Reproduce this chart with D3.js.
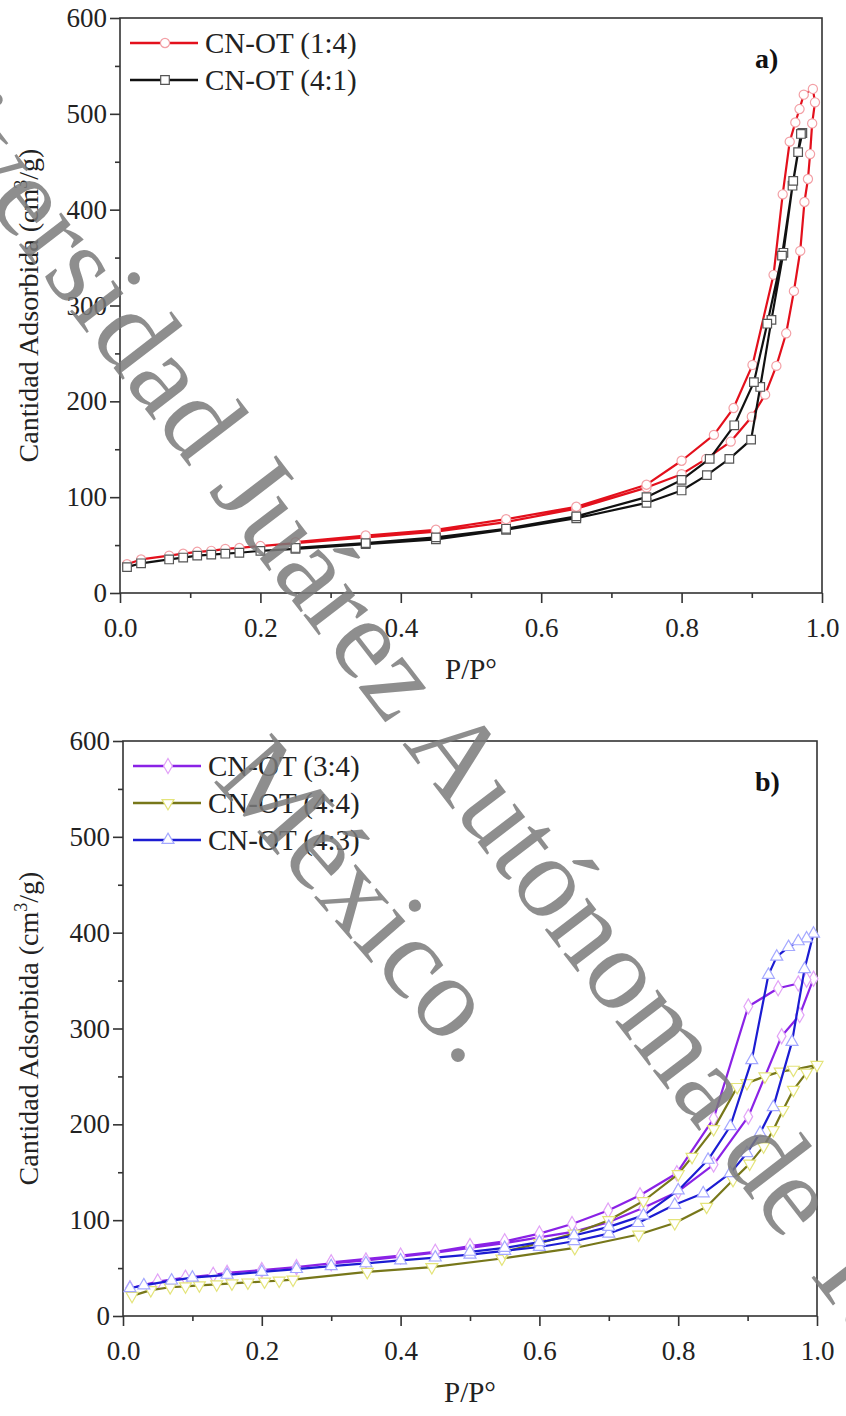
<!DOCTYPE html>
<html>
<head>
<meta charset="utf-8">
<script src="https://cdn.jsdelivr.net/npm/d3@7"></script>
<style>
  body { margin: 0; background: #fff; }
  svg { display: block; }
  .serif { font-family: "Liberation Serif", "Times New Roman", Tinos, "DejaVu Serif", serif; }
</style>
</head>
<body>
<script>
// isotherm points, measured order: adsorption up then desorption back down  [P/P0, cm3/g]
var cnot14 = [[0.01,30],[0.03,35],[0.07,39],[0.09,41],[0.11,43],[0.13,44],[0.15,46],[0.17,47],[0.2,49],[0.25,52],
  [0.35,58],[0.45,64],[0.55,74],[0.65,88],[0.75,110],[0.8,124],[0.835,140],[0.87,158],[0.9,184],[0.919,207],
  [0.935,237],[0.949,271],[0.96,315],[0.969,357],[0.975,408],[0.98,432],[0.983,458],[0.986,490],[0.99,512],
  [0.987,526],[0.974,520],[0.968,505],[0.962,491],[0.954,471],[0.944,416],[0.931,332],[0.901,238],[0.874,193],
  [0.846,165],[0.8,138],[0.75,113],[0.65,90],[0.55,77],[0.45,66],[0.35,60],[0.25,53]];
var cnot41 = [[0.01,27],[0.03,31],[0.07,35],[0.09,37],[0.11,39],[0.13,40],[0.15,41],[0.17,42],[0.2,44],[0.25,46],
  [0.35,51],[0.45,56],[0.55,66],[0.65,78],[0.75,94],[0.8,107],[0.836,123],[0.868,140],[0.899,160],[0.912,215],
  [0.928,285],[0.945,355],[0.958,425],[0.966,460],[0.972,480],
  [0.97,479],[0.959,430],[0.943,352],[0.922,281],[0.903,220],[0.875,175],[0.84,140],[0.8,118],[0.75,100],
  [0.65,80],[0.55,67],[0.45,58],[0.35,52],[0.25,47]];

var cnot34 = [[0.01,29],[0.05,36],[0.09,40],[0.13,43],[0.15,45],[0.2,48],[0.25,51],[0.3,55],[0.35,58],[0.4,62],
  [0.45,66],[0.5,71],[0.55,76],[0.6,82],[0.65,88],[0.7,98],[0.75,113],[0.8,130],[0.851,158],[0.901,208],
  [0.949,292],[0.975,314],[0.995,352],
  [0.985,351],[0.973,347],[0.944,342],[0.901,323],[0.851,206],[0.798,149],[0.745,126],[0.699,110],[0.647,96],
  [0.6,86],[0.55,78],[0.5,73],[0.45,67],[0.4,63],[0.3,56]];
var cnot44 = [[0.013,21],[0.04,27],[0.068,30],[0.09,31],[0.11,32],[0.135,33],[0.157,34],[0.18,35],[0.204,36],
  [0.225,37],[0.245,38],[0.352,46],[0.445,51],[0.546,60],[0.651,71],[0.743,85],[0.795,97],[0.841,114],
  [0.879,142],[0.903,159],[0.923,177],[0.937,194],[0.951,215],[0.966,236],[0.985,254],[1.0,262],
  [0.966,257],[0.947,255],[0.925,250],[0.899,243],[0.885,239],[0.851,195],[0.82,166],[0.8,148],[0.75,120],
  [0.7,100],[0.65,86],[0.6,76],[0.55,67]];
var cnot43 = [[0.01,29],[0.03,32],[0.07,37],[0.1,40],[0.15,43],[0.2,46],[0.25,49],[0.3,52],[0.35,55],[0.4,58],
  [0.45,61],[0.5,64],[0.55,68],[0.6,72],[0.65,78],[0.7,86],[0.742,97],[0.795,116],[0.836,128],[0.875,149],
  [0.899,170],[0.918,191],[0.937,218],[0.964,286],[0.982,362],[0.995,399],
  [0.985,394],[0.973,391],[0.959,385],[0.942,375],[0.93,356],[0.906,267],[0.875,198],[0.843,163],[0.8,131],
  [0.75,105],[0.7,93],[0.65,84],[0.6,77],[0.55,71],[0.5,67]];

var xTicks = [0, 0.2, 0.4, 0.6, 0.8, 1.0];
var yTicks = [0, 100, 200, 300, 400, 500, 600];

var panels = [
  {left: 120, right: 822, top: 18, bottom: 593, tag: "a)",
   series: [
     {name: "CN-OT (1:4)", data: cnot14, color: "#e3101c", mark: "#f3a0a6", sym: d3.symbolCircle, size: 66, rot: 0},
     {name: "CN-OT (4:1)", data: cnot41, color: "#111111", mark: "#555555", sym: d3.symbolSquare, size: 74, rot: 0}
   ]},
  {left: 123, right: 817, top: 741, bottom: 1316, tag: "b)",
   series: [
     {name: "CN-OT (3:4)", data: cnot34, color: "#8a22e6", mark: "#e2a2f7", sym: d3.symbolDiamond, size: 66, rot: 0},
     {name: "CN-OT (4:4)", data: cnot44, color: "#77771a", mark: "#e4e47a", sym: d3.symbolTriangle, size: 62, rot: 180},
     {name: "CN-OT (4:3)", data: cnot43, color: "#1c1cd2", mark: "#a4a8ff", sym: d3.symbolTriangle, size: 62, rot: 0}
   ]}
];

var svg = d3.select("body").append("svg").attr("width", 846).attr("height", 1416);

function drawPanel(p) {
  var x = d3.scaleLinear().domain([0, 1]).range([p.left, p.right]);
  var y = d3.scaleLinear().domain([0, 600]).range([p.bottom, p.top]);
  var g = svg.append("g");

  // frame
  g.append("rect").attr("x", p.left).attr("y", p.top)
    .attr("width", p.right - p.left).attr("height", p.bottom - p.top)
    .attr("fill", "none").attr("stroke", "#333").attr("stroke-width", 1.6);

  // minor ticks
  g.append("g").attr("transform", "translate(" + p.left + ",0)")
    .call(d3.axisLeft(y).tickValues([50,150,250,350,450,550]).tickSize(5).tickFormat(""))
    .call(function(a) { a.select(".domain").remove(); });
  g.append("g").attr("transform", "translate(0," + p.bottom + ")")
    .call(d3.axisBottom(x).tickValues([0.1,0.3,0.5,0.7,0.9]).tickSize(5).tickFormat(""))
    .call(function(a) { a.select(".domain").remove(); });

  var ya = g.append("g").attr("transform", "translate(" + p.left + ",0)")
    .call(d3.axisLeft(y).tickValues(yTicks).tickSize(10).tickPadding(3).tickFormat(d3.format("d")));
  var xa = g.append("g").attr("transform", "translate(0," + p.bottom + ")")
    .call(d3.axisBottom(x).tickValues(xTicks).tickSize(10).tickPadding(15).tickFormat(d3.format(".1f")));
  [ya, xa].forEach(function(a) {
    a.select(".domain").remove();
    a.attr("font-family", null);
    a.selectAll("text").attr("class", "serif").attr("font-size", 27).attr("fill", "#222");
  });
  g.selectAll(".tick line").attr("stroke", "#333").attr("stroke-width", 1.6);

  // axis titles
  g.append("text").attr("class", "serif").attr("x", (p.left + p.right) / 2).attr("y", p.bottom + 86)
    .attr("text-anchor", "middle").attr("font-size", 29).attr("fill", "#222").text("P/P°");
  var yt = g.append("text").attr("class", "serif")
    .attr("transform", "translate(38," + (p.top + p.bottom) / 2 + ") rotate(-90)")
    .attr("text-anchor", "middle").attr("font-size", 28).attr("fill", "#222");
  yt.append("tspan").text("Cantidad Adsorbida (cm");
  yt.append("tspan").attr("font-size", 18).attr("dy", -11).text("3");
  yt.append("tspan").attr("dy", 11).text("/g)");

  g.append("text").attr("class", "serif").attr("x", 755).attr("y", p.top + 50)
    .attr("font-size", 28).attr("font-weight", "bold").attr("fill", "#111").text(p.tag);

  var line = d3.line().x(function(d) { return x(d[0]); }).y(function(d) { return y(d[1]); });

  p.series.forEach(function(s) {
    g.append("path").datum(s.data).attr("d", line)
      .attr("fill", "none").attr("stroke", s.color).attr("stroke-width", 2.2).attr("stroke-linejoin", "round");
    g.append("g").selectAll("path").data(s.data).enter().append("path")
      .attr("d", d3.symbol().type(s.sym).size(s.size))
      .attr("transform", function(d) { return "translate(" + x(d[0]) + "," + y(d[1]) + ") rotate(" + s.rot + ")"; })
      .attr("fill", "#fff").attr("stroke", s.mark).attr("stroke-width", 1.2);
  });

  // legend
  p.series.forEach(function(s, i) {
    var ly = p.top + 25 + i * 37;
    var lg = g.append("g");
    lg.append("line").attr("x1", p.left + 10).attr("x2", p.left + 78).attr("y1", ly).attr("y2", ly)
      .attr("stroke", s.color).attr("stroke-width", 2.5);
    lg.append("path").attr("d", d3.symbol().type(s.sym).size(s.size))
      .attr("transform", "translate(" + (p.left + 45) + "," + ly + ") rotate(" + s.rot + ")")
      .attr("fill", "#fff").attr("stroke", s.mark).attr("stroke-width", 1.2);
    lg.append("text").attr("class", "serif").attr("x", p.left + 85).attr("y", ly + 10)
      .attr("font-size", 29).attr("fill", "#222").text(s.name);
  });
}

panels.forEach(drawPanel);

// watermark over the charts
var wm = svg.append("g").attr("fill", "#7a7a7a").attr("fill-opacity", 0.85).attr("font-size", 116);
wm.append("text").attr("class", "serif").attr("transform", "translate(-155,18) rotate(52.5)")
  .text("Universidad Juárez Autónoma de Tabasco.");
wm.append("text").attr("class", "serif").attr("transform", "translate(212,780) rotate(49)").text("México.");
</script>
</body>
</html>
